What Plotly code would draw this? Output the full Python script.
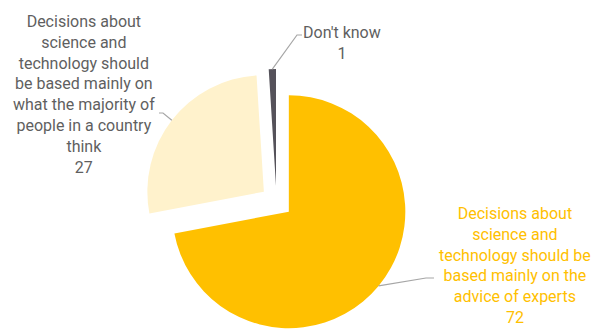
import math
import plotly.graph_objects as go

# Survey shares (%)
labels = [
    "Decisions about<br>science and<br>technology should be<br>based mainly on the<br>advice of experts",
    "Decisions about<br>science and<br>technology should<br>be based mainly on<br>what the majority of<br>people in a country<br>think",
    "Don't know",
]
values = [72, 27, 1]
colors = ["#FFC000", "#FFF2CC", "#55525A"]
label_colors = ["#FFC000", "#5F5F5F", "#5F5F5F"]

W, H = 606, 329
R = 116.5            # slice radius, px
CX, CY = 276.5, 201.5  # common pie centre, px
EXPLODE = 16.0       # distance each slice is pushed out, px

# label anchor (centre x, top y) and leader-line elbow/end, px
label_pos = [(515, 202), (84, 10), (342, 21)]
leader_pts = [[(426, 278), (434, 278)], [(163, 113), (159, 113)], [(297, 35), (302, 35)]]

FONT = "Roboto"


def px_x(x):
    return x / W


def px_y(y):
    return 1 - y / H


fig = go.Figure()
total = sum(values)
start = 0.0
shapes = []
annotations = []
for i, v in enumerate(values):
    span = 360.0 * v / total
    mid = math.radians(start + span / 2)
    sx, sy = math.sin(mid), -math.cos(mid)
    cx = CX + EXPLODE * sx
    cy = CY + EXPLODE * sy
    slice_colors = ["rgba(0,0,0,0)"] * len(values)
    slice_colors[i] = colors[i]
    fig.add_trace(go.Pie(
        values=values,
        sort=False,
        direction="clockwise",
        rotation=0,
        marker=dict(colors=slice_colors, line=dict(width=0)),
        textinfo="none",
        hoverinfo="skip",
        showlegend=False,
        domain=dict(x=[px_x(cx - R), px_x(cx + R)], y=[px_y(cy + R), px_y(cy - R)]),
    ))

    # leader line from the slice edge to its label
    ex, ey = cx + R * sx, cy + R * sy
    pts = [(ex, ey)] + leader_pts[i]
    path = "M " + " L ".join(f"{px_x(x):.5f},{px_y(y):.5f}" for x, y in pts)
    shapes.append(dict(type="path", xref="paper", yref="paper", path=path,
                       line=dict(color="#A6A6A6", width=1.2)))

    lx, ly = label_pos[i]
    annotations.append(dict(
        x=px_x(lx), y=px_y(ly), xref="paper", yref="paper",
        xanchor="center", yanchor="top", align="center", showarrow=False,
        text=f"{labels[i]}<br>{v}",
        font=dict(family=FONT, size=16, color=label_colors[i]),
    ))
    start += span

fig.update_layout(
    width=W, height=H,
    margin=dict(l=0, r=0, t=0, b=0),
    paper_bgcolor="white", plot_bgcolor="white",
    shapes=shapes, annotations=annotations,
)

fig.write_html("out.html")
